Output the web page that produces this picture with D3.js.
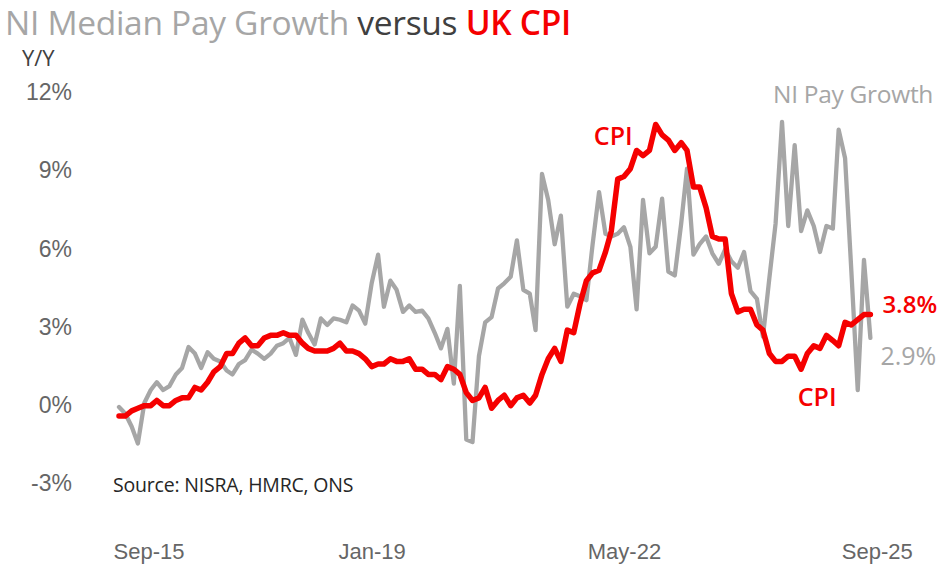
<!DOCTYPE html>
<html>
<head>
<meta charset="utf-8">
<script src="https://cdn.jsdelivr.net/npm/d3@7"></script>
<style>
	html, body { margin: 0; padding: 0; background: #ffffff; }
	svg { display: block; font-family: 'Open Sans', 'Noto Sans', sans-serif; }
	.tick-label { fill: #666666; }
</style>
</head>
<body>
<svg id="viz-pay" width="949" height="573"></svg>
<script>

// Monthly, Sep-15 to Aug-25.
var startMonth = new Date( 2015, 8, 1 );

// UK CPI, Y/Y %.
var cpiValues = [
	-0.1, -0.1, 0.1, 0.2,
	0.3, 0.3, 0.5, 0.3, 0.3, 0.5, 0.6, 0.6, 1.0, 0.9, 1.2, 1.6,
	1.8, 2.3, 2.3, 2.7, 2.9, 2.6, 2.6, 2.9, 3.0, 3.0, 3.1, 3.0,
	3.0, 2.7, 2.5, 2.4, 2.4, 2.4, 2.5, 2.7, 2.4, 2.4, 2.3, 2.1,
	1.8, 1.9, 1.9, 2.1, 2.0, 2.0, 2.1, 1.7, 1.7, 1.5, 1.5, 1.3,
	1.8, 1.7, 1.5, 0.8, 0.5, 0.6, 1.0, 0.2, 0.5, 0.7, 0.3, 0.6,
	0.7, 0.4, 0.7, 1.5, 2.1, 2.5, 2.0, 3.2, 3.1, 4.2, 5.1, 5.4,
	5.5, 6.2, 7.0, 9.0, 9.1, 9.4, 10.1, 9.9, 10.1, 11.1, 10.7, 10.5,
	10.1, 10.4, 10.1, 8.7, 8.7, 7.9, 6.8, 6.7, 6.7, 4.6, 3.9, 4.0,
	4.0, 3.4, 3.2, 2.3, 2.0, 2.0, 2.2, 2.2, 1.7, 2.3, 2.6, 2.5,
	3.0, 2.8, 2.6, 3.5, 3.4, 3.6, 3.8, 3.8
];

// NI median pay growth, Y/Y %.
var payValues = [
	0.25, 0.0, -0.5, -1.15,
	0.4, 0.9, 1.2, 0.9, 1.05, 1.5, 1.75, 2.55, 2.3, 1.75, 2.35, 2.1,
	2.0, 1.65, 1.5, 1.9, 2.05, 2.45, 2.3, 2.1, 2.3, 2.6, 2.7, 2.9,
	2.25, 3.6, 3.1, 2.65, 3.65, 3.4, 3.65, 3.6, 3.5, 4.15, 3.95, 3.45,
	5.0, 6.1, 4.1, 5.1, 4.75, 3.9, 4.15, 3.9, 3.95, 3.65, 3.1, 2.5,
	3.25, 1.15, 4.9, -1.0, -1.1, 2.2, 3.5, 3.7, 4.8, 5.0, 5.25, 6.65,
	4.75, 4.6, 3.2, 9.2, 8.2, 6.5, 7.6, 4.1, 4.6, 4.5, 4.35, 6.5,
	8.5, 6.9, 6.8, 6.9, 7.15, 6.4, 4.0, 8.2, 6.15, 6.4, 8.25, 5.45,
	5.3, 7.3, 9.4, 6.1, 6.5, 6.8, 6.15, 5.75, 6.3, 5.85, 5.6, 6.2,
	4.7, 4.4, 2.95, 5.2, 7.3, 11.2, 7.2, 10.3, 7.0, 7.8, 7.2, 6.2,
	7.2, 7.1, 10.9, 9.8, 5.5, 0.9, 5.9, 2.9
];

// Axis ticks.
var yTicks = [ -3, 0, 3, 6, 9, 12 ];
var xTickDates = [ new Date( 2015, 8, 1 ), new Date( 2019, 0, 1 ), new Date( 2022, 4, 1 ), new Date( 2025, 8, 1 ) ];
var xTickLabels = [ 'Sep-15', 'Jan-19', 'May-22', 'Sep-25' ];

// End-of-line labels.
var cpiEndLabel = '3.8%';
var payEndLabel = '2.9%';


window.payViz = {



	/**
	 * @private
	 * Plot area in pixels.
	 */
	_plot: {
		left: 119,
		right: 870.4,
		top: 101,
		bottom: 491.6
	},



	_colors: {
		pay: '#a6a6a6',
		cpi: '#f50000',
		dark: '#404040',
		text: '#262626'
	},



	/**
	 * @private
	 * @function _bindSvg
	 */
	_bindSvg: function () {
		this._svg = d3.select( '#viz-pay' );
		this._months = d3.timeMonth.range( startMonth, d3.timeMonth.offset( startMonth, cpiValues.length ) );
	},



	/**
	 * @private
	 * @function _createScales
	 */
	_createScales: function () {

		this._x = d3.scaleTime()
			.domain( d3.extent( this._months ) )
			.range( [ this._plot.left, this._plot.right ] );

		this._y = d3.scaleLinear()
			.domain( [ -3, 12 ] )
			.range( [ this._plot.bottom, this._plot.top ] );

	},



	/**
	 * @private
	 * @function _drawTitle
	 */
	_drawTitle: function () {

		var title = this._svg.append( 'text' )
			.attr( 'x', 5 )
			.attr( 'y', 35 )
			.style( 'font-size', '33.5px' )
			.style( 'letter-spacing', '-0.3px' );

		title.append( 'tspan' ).attr( 'fill', this._colors.pay ).text( 'NI Median Pay Growth' );
		title.append( 'tspan' ).attr( 'fill', this._colors.dark ).text( ' versus ' );
		title.append( 'tspan' ).attr( 'fill', this._colors.cpi ).style( 'font-weight', 600 ).text( 'UK CPI' );

		this._svg.append( 'text' )
			.attr( 'x', 22 )
			.attr( 'y', 66 )
			.attr( 'fill', this._colors.dark )
			.style( 'font-size', '22px' )
			.text( 'Y/Y' );

	},



	/**
	 * @private
	 * @function _drawAxes
	 */
	_drawAxes: function () {

		var yAxis = d3.axisLeft( this._y )
			.tickValues( yTicks )
			.tickSize( 0 )
			.tickPadding( 0 )
			.tickFormat( function ( d ) { return d + '%'; } );

		var gy = this._svg.append( 'g' )
			.attr( 'transform', 'translate(72,0)' )
			.call( yAxis );
		gy.select( '.domain' ).remove();
		gy.selectAll( 'text' )
			.attr( 'class', 'tick-label' )
			.attr( 'dy', '-0.05em' )
			.attr( 'font-family', null )
			.attr( 'font-size', null )
			.style( 'font-size', '23px' );

		var xAxis = d3.axisBottom( this._x )
			.tickValues( xTickDates )
			.tickSize( 0 )
			.tickPadding( 0 )
			.tickFormat( function ( d, i ) { return xTickLabels[i]; } );

		var gx = this._svg.append( 'g' )
			.attr( 'transform', 'translate(0,552)' )
			.call( xAxis );
		gx.select( '.domain' ).remove();
		gx.selectAll( 'text' )
			.attr( 'class', 'tick-label' )
			.attr( 'font-family', null )
			.attr( 'font-size', null )
			.attr( 'dy', '0.32em' )
			.style( 'font-size', '22px' );
		gx.selectAll( 'text' ).filter( function ( d, i ) { return i === 0; } )
			.attr( 'text-anchor', 'start' )
			.attr( 'dx', -6 );

		this._svg.append( 'text' )
			.attr( 'x', 113 )
			.attr( 'y', 492 )
			.attr( 'fill', this._colors.text )
			.style( 'font-size', '19.5px' )
			.style( 'letter-spacing', '-0.2px' )
			.text( 'Source: NISRA, HMRC, ONS' );

	},



	/**
	 * @private
	 * @function _drawLines
	 */
	_drawLines: function () {

		var months = this._months;

		var line = d3.line()
			.x( function ( d, i ) { return this._x( months[i] ); }.bind( this ) )
			.y( function ( d ) { return this._y( d ); }.bind( this ) );

		this._svg.append( 'path' )
			.datum( payValues )
			.attr( 'fill', 'none' )
			.attr( 'stroke', this._colors.pay )
			.attr( 'stroke-width', 4.3 )
			.attr( 'stroke-linejoin', 'round' )
			.attr( 'stroke-linecap', 'round' )
			.attr( 'd', line );

		this._svg.append( 'path' )
			.datum( cpiValues )
			.attr( 'fill', 'none' )
			.attr( 'stroke', this._colors.cpi )
			.attr( 'stroke-width', 5.5 )
			.attr( 'stroke-linejoin', 'round' )
			.attr( 'stroke-linecap', 'round' )
			.attr( 'd', line );

	},



	/**
	 * @private
	 * @function _drawLabels
	 */
	_drawLabels: function () {

		var last = function ( arr ) { return arr[arr.length - 1]; };
		var xEnd = this._x( last( this._months ) );

		this._svg.append( 'text' )
			.attr( 'x', xEnd + 12 )
			.attr( 'y', this._y( last( cpiValues ) ) - 2 )
			.attr( 'fill', this._colors.cpi )
			.style( 'font-size', '24px' )
			.style( 'font-weight', 600 )
			.text( cpiEndLabel );

		this._svg.append( 'text' )
			.attr( 'x', xEnd + 10 )
			.attr( 'y', this._y( last( payValues ) ) + 27 )
			.attr( 'fill', this._colors.pay )
			.style( 'font-size', '25px' )
			.text( payEndLabel );

		// CPI label left of the peak.
		var peak = d3.maxIndex( cpiValues );
		this._svg.append( 'text' )
			.attr( 'x', this._x( this._months[peak] ) - 23 )
			.attr( 'y', this._y( cpiValues[peak] ) + 21 )
			.attr( 'text-anchor', 'end' )
			.attr( 'fill', this._colors.cpi )
			.style( 'font-size', '25px' )
			.style( 'font-weight', 600 )
			.text( 'CPI' );

		// CPI label below the 2024 trough.
		var trough = d3.minIndex( cpiValues.slice( 96 ) ) + 96;
		this._svg.append( 'text' )
			.attr( 'x', this._x( this._months[trough] ) + 16 )
			.attr( 'y', this._y( cpiValues[trough] ) + 37 )
			.attr( 'text-anchor', 'middle' )
			.attr( 'fill', this._colors.cpi )
			.style( 'font-size', '25px' )
			.style( 'font-weight', 600 )
			.text( 'CPI' );

		// Series name over the pay peak.
		var payPeak = d3.maxIndex( payValues );
		this._svg.append( 'text' )
			.attr( 'x', this._x( this._months[payPeak] ) - 9 )
			.attr( 'y', this._y( payValues[payPeak] ) - 19 )
			.attr( 'fill', this._colors.pay )
			.style( 'font-size', '24.5px' )
			.style( 'letter-spacing', '-0.3px' )
			.text( 'NI Pay Growth' );

	},



	/**
	 * @public
	 * @function on
	 */
	on: function () {
		this._bindSvg();
		this._createScales();
		this._drawTitle();
		this._drawAxes();
		this._drawLines();
		this._drawLabels();
	}

};

window.payViz.on();
</script>
</body>
</html>
